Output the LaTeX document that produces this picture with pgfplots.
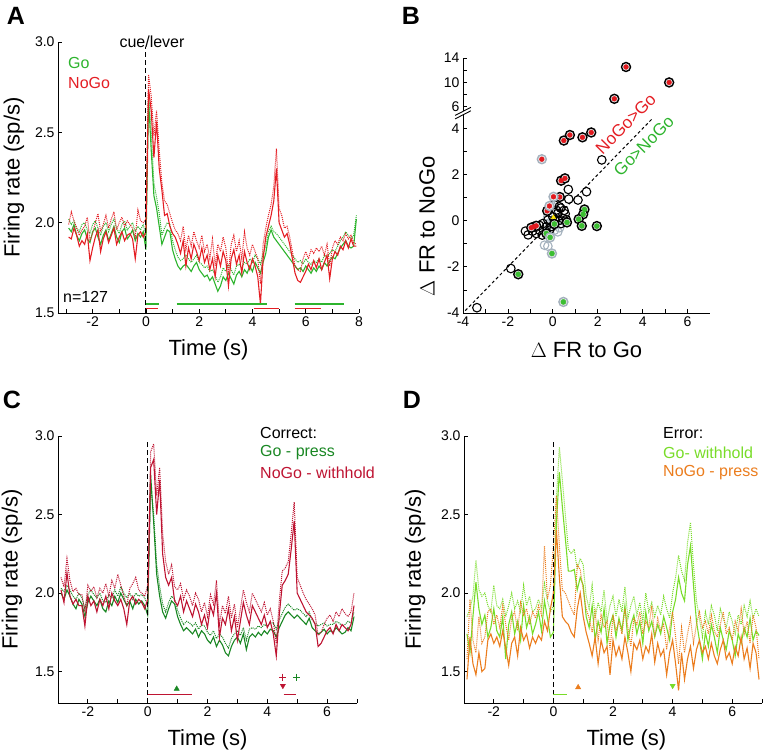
\documentclass[border=0pt]{standalone}
\usepackage{fontspec}
\setmainfont{Liberation Sans}
\usepackage{pgfplots}
\usepackage{pgfplotstable}
\pgfplotsset{compat=1.18}
\definecolor{gA}{RGB}{45,180,45}
\definecolor{rA}{RGB}{228,30,36}
\definecolor{gC}{RGB}{25,135,35}
\definecolor{rC}{RGB}{190,20,50}
\definecolor{gD}{RGB}{120,220,40}
\definecolor{oD}{RGB}{235,125,30}
\definecolor{ringgray}{RGB}{165,178,190}
\definecolor{dotred}{RGB}{225,25,30}
\definecolor{dotgreen}{RGB}{60,190,50}

\pgfplotstableread{
t gs gd ns nd
-2.9 1.97 2.02 1.92 1.99
-2.8 1.95 1.99 1.91 2.06
-2.7 1.99 2.01 1.97 2.01
-2.6 1.93 1.97 1.93 1.97
-2.5 1.90 1.95 1.87 1.93
-2.4 1.94 1.99 1.90 1.96
-2.3 1.96 2.00 1.88 1.98
-2.2 1.91 1.96 1.94 2.03
-2.1 1.89 1.94 1.79 1.90
-2.0 1.95 1.99 1.86 1.94
-1.9 1.97 2.01 1.92 2.00
-1.8 1.92 1.97 1.96 2.05
-1.7 1.88 1.93 1.84 1.95
-1.6 1.93 1.98 1.91 1.99
-1.5 1.96 2.00 1.95 2.04
-1.4 1.90 1.95 1.89 1.97
-1.3 1.94 1.99 1.93 2.02
-1.2 1.98 2.02 1.97 2.06
-1.1 1.92 1.97 1.88 1.96
-1.0 1.89 1.94 1.92 2.00
-0.9 1.95 1.99 1.95 2.03
-0.8 1.97 2.01 1.90 1.98
-0.7 1.91 1.96 1.93 2.01
-0.6 1.93 1.98 1.94 1.99
-0.5 1.96 2.00 1.91 1.97
-0.4 1.90 1.95 1.80 1.92
-0.3 1.94 1.98 1.93 2.07
-0.2 1.92 1.96 1.95 2.01
-0.1 1.95 1.99 1.92 2.00
0.0 1.85 1.93 1.95 2.02
0.1 2.68 2.72 2.74 2.82
0.2 2.40 2.50 2.62 2.70
0.3 2.15 2.22 2.36 2.48
0.4 2.08 2.14 2.56 2.62
0.5 1.98 2.05 2.30 2.40
0.6 1.88 1.93 2.18 2.22
0.7 1.92 1.97 2.04 2.12
0.8 1.96 2.00 2.05 2.10
0.9 1.95 1.99 1.98 2.05
1.0 1.85 1.90 1.94 2.00
1.1 1.80 1.85 1.92 1.96
1.2 1.76 1.81 1.88 1.94
1.3 1.74 1.79 1.83 1.90
1.4 1.76 1.80 1.90 1.98
1.5 1.77 1.82 1.76 1.85
1.6 1.75 1.80 1.86 1.93
1.7 1.73 1.78 1.80 1.87
1.8 1.76 1.80 1.88 1.95
1.9 1.78 1.82 1.84 1.90
2.0 1.74 1.78 1.79 1.86
2.1 1.72 1.77 1.86 1.93
2.2 1.70 1.75 1.78 1.84
2.3 1.71 1.76 1.82 1.88
2.4 1.68 1.73 1.74 1.80
2.5 1.70 1.74 1.80 1.91
2.6 1.66 1.71 1.70 1.76
2.7 1.62 1.67 1.82 1.88
2.8 1.65 1.70 1.76 1.84
2.9 1.70 1.75 1.84 1.92
3.0 1.68 1.73 1.79 1.86
3.1 1.72 1.77 1.65 1.72
3.2 1.69 1.74 1.80 1.88
3.3 1.66 1.71 1.85 1.93
3.4 1.71 1.76 1.77 1.84
3.5 1.73 1.77 1.82 1.90
3.6 1.70 1.75 1.72 1.80
3.7 1.74 1.78 1.84 1.95
3.8 1.72 1.77 1.78 1.86
3.9 1.76 1.80 1.74 1.82
4.0 1.73 1.78 1.80 1.88
4.1 1.78 1.82 1.76 1.84
4.2 1.75 1.80 1.70 1.80
4.3 1.72 1.77 1.55 1.66
4.4 1.78 1.83 1.80 1.88
4.5 1.83 1.87 1.92 1.97
4.6 1.92 1.95 1.98 2.04
4.7 1.96 1.98 2.04 2.10
4.8 1.92 1.95 2.12 2.20
4.9 1.90 1.94 2.30 2.41
5.0 1.88 1.92 2.00 2.08
5.1 1.86 1.90 1.96 2.04
5.2 1.84 1.88 1.92 1.97
5.3 1.82 1.86 1.94 1.98
5.4 1.80 1.84 1.88 1.92
5.5 1.78 1.82 1.80 1.84
5.6 1.76 1.80 1.72 1.76
5.7 1.74 1.78 1.68 1.74
5.8 1.75 1.79 1.67 1.73
5.9 1.73 1.77 1.70 1.80
6.0 1.76 1.80 1.73 1.84
6.1 1.74 1.78 1.77 1.80
6.2 1.72 1.77 1.74 1.85
6.3 1.75 1.79 1.79 1.83
6.4 1.73 1.78 1.75 1.86
6.5 1.76 1.80 1.80 1.84
6.6 1.74 1.78 1.74 1.87
6.7 1.78 1.82 1.78 1.82
6.8 1.76 1.81 1.82 1.88
6.9 1.79 1.83 1.69 1.76
7.0 1.81 1.85 1.80 1.86
7.1 1.80 1.84 1.84 1.90
7.2 1.83 1.87 1.82 1.88
7.3 1.86 1.90 1.87 1.92
7.4 1.88 1.92 1.85 1.90
7.5 1.90 1.95 1.90 1.94
7.6 1.87 1.93 1.86 1.91
7.7 1.86 1.91 1.91 1.93
7.8 1.87 1.93 1.87 1.89
7.9 2.02 2.04 1.87 1.88
}\tabA

\pgfplotstableread{
t gs gd ns nd
-2.9 2.00 2.03 2.02 2.10
-2.8 1.96 2.01 1.94 2.04
-2.7 2.02 2.05 2.13 2.22
-2.6 1.98 2.02 1.98 2.08
-2.5 1.93 1.98 1.93 2.01
-2.4 1.90 1.96 1.96 2.03
-2.3 1.96 2.00 1.92 1.99
-2.2 1.93 1.97 1.92 1.99
-2.1 1.85 1.90 1.79 1.88
-2.0 1.94 1.99 1.98 2.05
-1.9 1.98 2.02 1.92 2.01
-1.8 1.95 1.99 1.95 2.04
-1.7 1.92 1.97 1.88 1.97
-1.6 1.96 2.00 1.96 2.03
-1.5 1.90 1.95 1.92 2.00
-1.4 1.88 1.94 1.98 2.06
-1.3 1.95 1.99 1.90 1.98
-1.2 1.92 1.97 2.00 2.08
-1.1 1.98 2.02 1.95 2.03
-1.0 1.94 1.98 1.92 2.12
-0.9 2.00 2.04 1.96 2.05
-0.8 1.96 2.00 1.90 1.98
-0.7 1.92 1.97 1.80 1.92
-0.6 1.95 2.00 1.95 2.03
-0.5 1.90 1.96 1.98 2.06
-0.4 1.96 2.00 1.93 2.10
-0.3 1.93 1.98 1.96 2.02
-0.2 1.95 1.99 1.94 2.00
-0.1 1.92 1.97 1.90 1.98
0.0 1.86 1.92 1.96 2.05
0.1 2.75 2.68 2.80 2.90
0.2 2.45 2.50 2.85 2.95
0.3 2.12 2.18 2.50 2.62
0.4 1.98 2.04 2.72 2.80
0.5 1.88 1.93 2.25 2.38
0.6 1.84 1.88 2.10 2.20
0.7 1.90 1.94 2.05 2.12
0.8 1.95 1.98 2.10 2.18
0.9 1.93 1.96 1.95 2.04
1.0 1.85 1.89 1.92 2.02
1.1 1.80 1.84 1.98 2.06
1.2 1.76 1.80 1.88 1.96
1.3 1.78 1.82 1.95 2.02
1.4 1.76 1.81 1.90 1.98
1.5 1.74 1.79 1.85 1.92
1.6 1.77 1.81 1.93 2.00
1.7 1.72 1.77 1.88 1.96
1.8 1.76 1.80 1.80 1.88
1.9 1.74 1.79 1.86 1.94
2.0 1.70 1.75 1.78 1.85
2.1 1.68 1.73 1.92 1.99
2.2 1.72 1.76 1.86 1.93
2.3 1.66 1.71 2.00 2.08
2.4 1.70 1.74 1.72 1.80
2.5 1.67 1.72 1.84 1.92
2.6 1.62 1.68 1.80 1.87
2.7 1.60 1.65 1.90 1.98
2.8 1.66 1.71 1.76 1.84
2.9 1.70 1.74 1.85 1.93
3.0 1.72 1.76 1.70 1.78
3.1 1.68 1.73 1.82 1.90
3.2 1.74 1.78 1.94 2.02
3.3 1.64 1.70 1.86 1.94
3.4 1.72 1.77 1.80 1.88
3.5 1.74 1.78 1.92 2.00
3.6 1.72 1.77 1.88 1.96
3.7 1.75 1.79 1.84 1.92
3.8 1.73 1.78 1.80 1.88
3.9 1.76 1.80 1.86 1.94
4.0 1.74 1.79 1.78 1.86
4.1 1.77 1.81 1.82 1.90
4.2 1.76 1.81 1.74 1.82
4.3 1.72 1.77 1.60 1.68
4.4 1.78 1.83 1.86 1.95
4.5 1.82 1.87 2.05 2.14
4.6 1.86 1.91 2.08 2.16
4.7 1.88 1.93 2.12 2.20
4.8 1.86 1.91 2.28 2.38
4.9 1.84 1.89 2.46 2.58
5.0 1.86 1.90 2.00 2.10
5.1 1.84 1.89 1.96 2.05
5.2 1.82 1.87 1.92 2.00
5.3 1.80 1.85 1.88 1.96
5.4 1.84 1.88 1.86 1.93
5.5 1.78 1.83 1.84 1.90
5.6 1.76 1.81 1.80 1.86
5.7 1.74 1.79 1.66 1.73
5.8 1.75 1.80 1.68 1.75
5.9 1.77 1.81 1.72 1.80
6.0 1.74 1.79 1.76 1.84
6.1 1.76 1.80 1.78 1.86
6.2 1.75 1.80 1.74 1.82
6.3 1.78 1.82 1.80 1.88
6.4 1.76 1.81 1.76 1.85
6.5 1.74 1.79 1.80 1.90
6.6 1.75 1.80 1.78 1.87
6.7 1.78 1.82 1.76 1.85
6.8 1.76 1.81 1.80 1.88
6.9 1.85 1.88 1.92 2.00
}\tabC

\pgfplotstableread{
t gs gd ns nd
-2.9 1.74 1.85 1.45 1.58
-2.8 1.62 1.90 1.72 1.96
-2.7 1.85 1.98 1.55 1.70
-2.6 2.07 2.21 1.48 1.62
-2.5 1.90 2.02 1.62 1.85
-2.4 1.80 1.98 1.50 1.68
-2.3 1.86 2.00 1.52 1.72
-2.2 1.72 1.92 1.70 1.88
-2.1 1.78 1.88 1.74 1.90
-2.0 1.90 2.05 1.68 1.80
-1.9 1.76 1.92 1.72 1.86
-1.8 1.72 1.90 1.66 1.78
-1.7 1.85 1.96 1.76 1.92
-1.6 1.58 1.85 1.65 1.80
-1.5 1.80 1.92 1.54 1.70
-1.4 1.88 2.00 1.68 1.84
-1.3 1.74 1.90 1.72 1.88
-1.2 1.82 1.95 1.60 1.76
-1.1 1.70 1.88 1.78 1.94
-1.0 1.92 2.05 1.70 1.86
-0.9 1.78 1.92 1.74 1.90
-0.8 1.85 1.98 1.65 1.80
-0.7 1.74 1.88 1.72 1.88
-0.6 1.80 1.90 1.68 1.84
-0.5 1.88 1.96 1.73 1.92
-0.4 1.76 1.90 1.70 1.86
-0.3 1.95 2.06 1.82 2.30
-0.2 1.84 1.95 1.76 1.96
-0.1 1.72 1.88 1.90 2.05
0.0 1.75 1.92 2.00 2.30
0.1 2.45 2.60 2.40 2.62
0.2 2.77 2.93 2.10 2.30
0.3 2.55 2.72 1.85 2.02
0.4 2.35 2.50 1.82 2.00
0.5 2.14 2.28 1.80 1.95
0.6 2.14 2.25 1.75 1.90
0.7 2.15 2.28 1.72 1.86
0.8 2.02 2.15 1.90 2.18
0.9 2.10 2.22 2.00 2.15
1.0 2.05 2.18 1.85 2.02
1.1 1.85 1.98 1.75 1.90
1.2 1.78 1.90 1.68 1.84
1.3 1.92 2.05 1.60 1.75
1.4 1.70 1.84 1.72 1.88
1.5 1.82 1.94 1.55 1.70
1.6 1.75 1.88 1.70 1.86
1.7 1.90 2.02 1.62 1.78
1.8 1.68 1.82 1.66 1.82
1.9 1.80 1.92 1.48 1.64
2.0 1.86 1.98 1.70 1.86
2.1 1.72 1.85 1.60 1.76
2.2 1.84 1.96 1.66 1.82
2.3 1.76 1.88 1.58 1.74
2.4 1.92 2.04 1.72 1.90
2.5 1.70 1.84 1.62 1.78
2.6 1.80 1.92 1.50 1.66
2.7 1.86 1.98 1.68 1.84
2.8 1.74 1.86 1.64 1.80
2.9 1.82 1.94 1.70 1.88
3.0 1.68 1.82 1.58 1.74
3.1 1.88 2.00 1.66 1.82
3.2 1.76 1.88 1.62 1.78
3.3 1.82 1.94 1.74 1.92
3.4 1.72 1.85 1.56 1.72
3.5 1.80 1.92 1.68 1.84
3.6 1.74 1.86 1.60 1.76
3.7 1.85 1.98 1.64 1.80
3.8 1.78 1.90 1.48 1.64
3.9 1.70 1.84 1.62 1.78
4.0 1.88 2.00 1.70 1.88
4.1 1.96 2.10 1.55 1.72
4.2 2.10 2.24 1.38 1.55
4.3 2.00 2.14 1.62 1.78
4.4 1.95 2.08 1.45 1.62
4.5 2.18 2.32 1.58 1.74
4.6 2.30 2.45 1.66 1.84
4.7 2.05 2.18 1.52 1.68
4.8 1.82 1.95 1.64 1.80
4.9 1.70 1.84 1.70 1.88
5.0 1.58 1.72 1.62 1.78
5.1 1.75 1.88 1.66 1.82
5.2 1.66 1.80 1.58 1.74
5.3 1.80 1.92 1.68 1.86
5.4 1.72 1.86 1.60 1.76
5.5 1.62 1.76 1.55 1.72
5.6 1.78 1.90 1.64 1.80
5.7 1.70 1.84 1.70 1.88
5.8 1.64 1.78 1.58 1.74
5.9 1.76 1.88 1.62 1.78
6.0 1.70 1.82 1.55 1.70
6.1 1.60 1.74 1.66 1.82
6.2 1.74 1.86 1.60 1.76
6.3 1.68 1.80 1.72 1.90
6.4 1.78 1.92 1.58 1.74
6.5 1.72 1.85 1.65 1.82
6.6 1.84 1.95 1.52 1.68
6.7 1.70 1.84 1.68 1.86
6.8 1.76 1.90 1.62 1.78
6.9 1.73 1.85 1.45 1.58
}\tabD

% Panel B groups (y above 4.7 are on the compressed scale: 6->4.94, 10->6.0, 14->7.06)
\pgfplotstableread{
x y
2.18 2.64
0.69 1.36
1.50 1.26
1.12 0.90
0.71 0.94
-1.87 -2.07
-3.38 -3.77
-1.22 -0.45
-1.10 -0.61
-0.74 -0.55
-0.59 -0.41
-0.44 -0.12
-0.22 0.03
-0.29 -0.26
0.00 0.17
0.22 0.32
0.29 0.61
0.15 0.46
0.44 0.10
0.37 -0.12
-0.15 -0.41
-0.47 -0.62
0.55 0.30
0.35 0.55
0.60 0.05
-0.60 -0.20
-0.90 -0.45
0.10 0.05
0.50 0.45
-0.05 -0.25
0.25 0.00
0.05 0.70
}\Bopen
\pgfplotstableread{
x y
-0.37 -1.06
-0.22 -1.10
-0.15 -0.09
0.07 -0.41
0.22 -0.48
-0.22 0.17
-0.07 0.32
-0.07 0.68
0.15 0.03
0.30 -0.30
-0.30 -0.50
0.00 -0.15
}\Bgray
\pgfplotstableread{
x y
0.49 3.48
0.76 3.72
1.32 3.62
1.71 3.83
3.26 6.67
5.18 6.00
2.74 5.29
0.37 1.74
0.54 1.84
0.31 1.03
-0.25 0.43
-0.85 -0.26
-0.74 -0.22
-0.96 -0.30
}\Bredk
\pgfplotstableread{
x y
-0.49 2.67
0.03 1.04
-0.15 0.64
}\Bredg
\pgfplotstableread{
x y
1.41 0.49
1.35 0.28
1.15 0.07
1.29 -0.22
1.96 -0.23
0.63 -0.07
0.07 -0.14
-0.29 -0.55
-1.54 -2.32
}\Bgrnk
\pgfplotstableread{
x y
-0.12 -0.72
-0.04 -1.42
0.47 -3.52
}\Bgrng

\pgfplotsset{
  panel/.style={
    scale only axis, anchor=south west,
    axis lines=left, axis line style={-, line width=0.9pt, black},
    tick align=inside, major tick length=4pt, minor tick length=4pt,
    every tick/.style={black, line width=0.8pt},
    tick label style={font=\fontsize{14}{14}\selectfont},
    /pgf/number format/assume math mode=true,
    every axis x label/.style={at={(rel axis cs:0.5,0)}, anchor=center, yshift=-37pt, font=\fontsize{22}{22}\selectfont},
    every axis y label/.style={at={(rel axis cs:-0.146,0.5)}, anchor=center, rotate=90, font=\fontsize{22}{22}\selectfont},
  },
  trace/.style={line width=1.1pt},
  dott/.style={line width=1.0pt, densely dotted},
}

\begin{document}
\begin{tikzpicture}
\useasboundingbox (0pt,0pt) rectangle (765pt,-751pt);

% ---------------- Panel A ----------------
\begin{axis}[panel, at={(58pt,-313pt)}, width=301pt, height=271pt,
  xmin=-3.3, xmax=8, ymin=1.5, ymax=3,
  xtick={-2,0,...,8}, minor xtick={-3,-1,...,7},
  ytick={1.5,2,2.5,3},
  yticklabel style={/pgf/number format/.cd, fixed, fixed zerofill, precision=1},
  xlabel={Time (s)}, ylabel={Firing rate (sp/s)}, clip=false]
\addplot[gA, dott] table[x=t, y=gd] {\tabA};
\addplot[gA, trace] table[x=t, y=gs] {\tabA};
\addplot[rA, dott] table[x=t, y=nd] {\tabA};
\addplot[rA, trace] table[x=t, y=ns] {\tabA};
\addplot[black, line width=1.1pt, dash pattern=on 5pt off 3pt] coordinates {(0,1.5) (0,2.97)};
\addplot[gA, line width=1.1pt, unbounded coords=jump] coordinates {(0,1.55) (0.5,1.55) (nan,nan) (1.15,1.55) (4.55,1.55) (nan,nan) (5.58,1.55) (7.43,1.55)};
\addplot[rA, line width=1.1pt, unbounded coords=jump] coordinates {(0,1.525) (0.45,1.525) (nan,nan) (4.05,1.525) (5.0,1.525) (nan,nan) (5.58,1.525) (6.58,1.525)};
\end{axis}

% ---------------- Panel B ----------------
\begin{axis}[panel, at={(463pt,-313pt)}, width=247pt, height=255pt,
  xmin=-4, xmax=7, ymin=-4, ymax=7.06,
  xtick={-4,-2,0,2,4,6}, minor xtick={-3,-1,1,3,5},
  ytick={-4,-2,0,2,4,4.94,6.0,7.06}, yticklabels={-4,-2,0,2,4,6,10,14},
  minor ytick={-3,-1,1,3,5.47,6.53},
  xlabel={$\Delta$ FR to Go}, ylabel={$\Delta$ FR to NoGo},
  every axis y label/.style={at={(rel axis cs:-0.146,0.34)}, anchor=center, rotate=90, font=\fontsize{22}{22}\selectfont},
  clip=false]
\addplot[black, line width=1pt, dash pattern=on 3pt off 2.5pt] coordinates {(-3.9,-3.9) (4.45,4.45)};
\addplot[only marks, mark=o, mark size=4.3pt, ringgray, line width=1.1pt] table {\Bgray};
\addplot[only marks, mark=o, mark size=4.3pt, black, line width=1.1pt] table {\Bopen};
\addplot[only marks, mark=*, mark size=4.5pt, draw=black, fill=white!80!gray, line width=1.4pt] table {\Bredk};
\addplot[only marks, mark=*, mark size=2.4pt, dotred, draw=none] table {\Bredk};
\addplot[only marks, mark=*, mark size=4.5pt, draw=ringgray, fill=white!85!gray, line width=1.4pt] table {\Bredg};
\addplot[only marks, mark=*, mark size=2.4pt, dotred, draw=none] table {\Bredg};
\addplot[only marks, mark=*, mark size=4.5pt, draw=black, fill=white!80!gray, line width=1.4pt] table {\Bgrnk};
\addplot[only marks, mark=*, mark size=2.6pt, dotgreen, draw=none] table {\Bgrnk};
\addplot[only marks, mark=*, mark size=4.5pt, draw=ringgray, fill=white!85!gray, line width=1.4pt] table {\Bgrng};
\addplot[only marks, mark=*, mark size=2.6pt, dotgreen, draw=none] table {\Bgrng};
\addplot[only marks, mark=triangle*, mark size=2.5pt, yellow!90!orange] coordinates {(0.03,0.15)};
\fill[white] (axis cs:-4.35,4.42) -- (axis cs:-3.65,4.77) -- (axis cs:-3.65,4.92) -- (axis cs:-4.35,4.57) -- cycle;
\draw[black, line width=0.9pt] (axis cs:-4.35,4.42) -- (axis cs:-3.65,4.77);
\draw[black, line width=0.9pt] (axis cs:-4.35,4.57) -- (axis cs:-3.65,4.92);
\node[rotate=45, text=rA, font=\fontsize{17}{17}\selectfont, inner sep=0pt] at (axis cs:3.25,4.2) {NoGo>Go};
\node[rotate=45, text=gA, font=\fontsize{17}{17}\selectfont, inner sep=0pt] at (axis cs:4.05,3.25) {Go>NoGo};
\end{axis}

% ---------------- Panel C ----------------
\begin{axis}[panel, at={(58pt,-703pt)}, width=299pt, height=267pt,
  xmin=-3, xmax=7, ymin=1.3, ymax=3,
  xtick={-2,0,...,6}, minor xtick={-3,-1,...,7},
  ytick={1.5,2,2.5,3},
  yticklabel style={/pgf/number format/.cd, fixed, fixed zerofill, precision=1},
  xlabel={Time (s)}, ylabel={Firing rate (sp/s)},
  every axis y label/.style={at={(rel axis cs:-0.154,0.5)}, anchor=center, rotate=90, font=\fontsize{22}{22}\selectfont},
  clip=false]
\addplot[gC, dott] table[x=t, y=gd] {\tabC};
\addplot[gC, trace] table[x=t, y=gs] {\tabC};
\addplot[rC, dott] table[x=t, y=nd] {\tabC};
\addplot[rC, trace] table[x=t, y=ns] {\tabC};
\addplot[black, line width=1.1pt, dash pattern=on 5pt off 3pt] coordinates {(0,1.3) (0,2.97)};
\addplot[rC, line width=1.1pt, unbounded coords=jump] coordinates {(0,1.356) (1.47,1.356) (nan,nan) (4.55,1.356) (4.97,1.356)};
\addplot[only marks, mark=triangle*, mark size=3pt, gC] coordinates {(0.97,1.39)};
\addplot[only marks, mark=triangle*, mark size=3pt, rC, mark options={rotate=180}] coordinates {(4.52,1.41)};
\addplot[only marks, mark=+, mark size=3.5pt, rC, line width=1pt] coordinates {(4.52,1.465)};
\addplot[only marks, mark=+, mark size=3.5pt, gC, line width=1pt] coordinates {(4.97,1.465)};
\end{axis}

% ---------------- Panel D ----------------
\begin{axis}[panel, at={(464pt,-703pt)}, width=298pt, height=267pt,
  xmin=-3, xmax=7, ymin=1.3, ymax=3,
  xtick={-2,0,...,6}, minor xtick={-3,-1,...,7},
  ytick={1.5,2,2.5,3},
  yticklabel style={/pgf/number format/.cd, fixed, fixed zerofill, precision=1},
  xlabel={Time (s)}, ylabel={Firing rate (sp/s)},
  every axis x label/.style={at={(rel axis cs:0.545,0)}, anchor=center, yshift=-37pt, font=\fontsize{22}{22}\selectfont},
  every axis y label/.style={at={(rel axis cs:-0.164,0.5)}, anchor=center, rotate=90, font=\fontsize{22}{22}\selectfont},
  clip=false]
\addplot[gD, dott] table[x=t, y=gd] {\tabD};
\addplot[gD, trace] table[x=t, y=gs] {\tabD};
\addplot[oD, dott] table[x=t, y=nd] {\tabD};
\addplot[oD, trace] table[x=t, y=ns] {\tabD};
\addplot[black, line width=1.1pt, dash pattern=on 5pt off 3pt] coordinates {(0,1.3) (0,2.97)};
\addplot[gD, line width=1.1pt] coordinates {(0,1.356) (0.47,1.356)};
\addplot[only marks, mark=triangle*, mark size=3pt, oD] coordinates {(0.83,1.40)};
\addplot[only marks, mark=triangle*, mark size=3pt, gD, mark options={rotate=180}] coordinates {(4.0,1.41)};
\end{axis}

% ---------------- texts ----------------
\node[font=\fontsize{25}{25}\selectfont\bfseries] at (16pt,-16pt) {A};
\node[font=\fontsize{25}{25}\selectfont\bfseries] at (411pt,-16pt) {B};
\node[font=\fontsize{25}{25}\selectfont\bfseries] at (12pt,-400pt) {C};
\node[font=\fontsize{25}{25}\selectfont\bfseries] at (412pt,-400pt) {D};
\node[font=\fontsize{16}{16}\selectfont] at (152pt,-42pt) {cue/lever};
\node[anchor=west, text=gA, font=\fontsize{16}{16}\selectfont, inner sep=0pt] at (68pt,-63pt) {Go};
\node[anchor=west, text=rA, font=\fontsize{16}{16}\selectfont, inner sep=0pt] at (68pt,-83pt) {NoGo};
\node[anchor=west, font=\fontsize{16}{16}\selectfont, inner sep=0pt] at (63pt,-297pt) {n=127};
\node[anchor=west, font=\fontsize{16}{16}\selectfont, inner sep=0pt] at (260pt,-433pt) {Correct:};
\node[anchor=west, text=gC, font=\fontsize{16}{16}\selectfont, inner sep=0pt] at (260pt,-453pt) {Go - press};
\node[anchor=west, text=rC, font=\fontsize{16}{16}\selectfont, inner sep=0pt] at (260pt,-473pt) {NoGo - withhold};
\node[anchor=west, font=\fontsize{16}{16}\selectfont, inner sep=0pt] at (663pt,-433pt) {Error:};
\node[anchor=west, text=gD, font=\fontsize{16}{16}\selectfont, inner sep=0pt] at (663pt,-453pt) {Go- withhold};
\node[anchor=west, text=oD, font=\fontsize{16}{16}\selectfont, inner sep=0pt] at (663pt,-473pt) {NoGo - press};
\end{tikzpicture}
\end{document}
